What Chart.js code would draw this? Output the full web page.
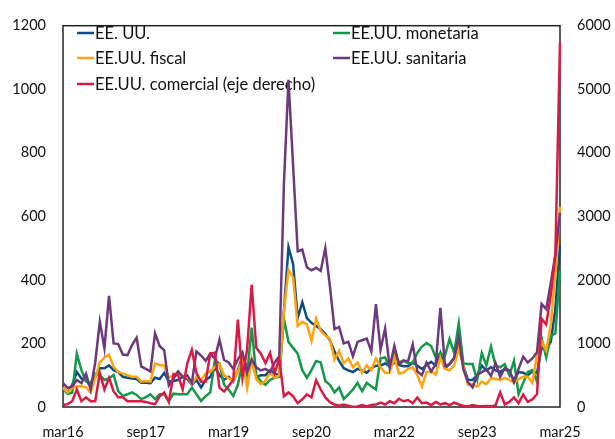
<!DOCTYPE html>
<html>
<head>
<meta charset="utf-8">
<script src="https://cdn.jsdelivr.net/npm/chart.js@4.4.1/dist/chart.umd.min.js"></script>
<style>
  html, body { margin: 0; padding: 0; background: #fff; }
  #wrap { width: 615px; height: 439px; }
</style>
</head>
<body>
<div id="wrap"><canvas id="myChart" width="615" height="439"></canvas></div>
<script>
// meses para las etiquetas (mar16 ... mar25, mensual)
const meses = ['ene', 'feb', 'mar', 'abr', 'may', 'jun', 'jul', 'ago', 'sep', 'oct', 'nov', 'dic'];
const etiquetas = [];
for (let k = 0; k < 109; k++) {
    const m = (2 + k) % 12;
    const a = 16 + Math.floor((2 + k) / 12);
    etiquetas.push(meses[m] + a);
}

// EE. UU. (eje izquierdo)
const eeuu = [
    61, 45, 70, 110, 90, 85, 65, 95, 122, 122,
    131, 116, 110, 95, 92, 90, 88, 76, 76, 75,
    92, 88, 107, 80, 82, 85, 95, 88, 70, 85,
    62, 85, 95, 125, 100, 85, 95, 80, 115, 160,
    125, 145, 95, 100, 100, 115, 105, 100, 300, 503,
    450, 280, 330, 280, 265, 255, 245, 230, 210, 175,
    145, 122, 115, 110, 120, 115, 108, 122, 130, 130,
    137, 128, 140, 132, 128, 128, 140, 130, 120, 132,
    142, 130, 170, 122, 135, 153, 190, 130, 85, 85,
    100, 130, 115, 125, 115, 110, 120, 110, 85, 110,
    108, 100, 112, 107, 186, 180, 205, 310, 510
];

// EE.UU. monetaria
const monetaria = [
    56, 41, 45, 168, 116, 80, 75, 105, 100, 85,
    90, 101, 50, 35, 40, 46, 38, 25, 31, 40,
    25, 40, 40, 18, 42, 40, 40, 40, 61, 40,
    19, 34, 46, 147, 137, 70, 55, 35, 70, 140,
    100, 250, 100, 80, 70, 85, 92, 95, 278, 205,
    186, 168, 116, 92, 116, 145, 140, 82, 70, 46,
    61, 25, 40, 55, 76, 50, 76, 65, 55, 153,
    156, 125, 168, 140, 147, 137, 140, 170, 190, 201,
    192, 156, 170, 162, 214, 171, 263, 137, 135, 135,
    85, 170, 131, 190, 130, 125, 135, 100, 145, 40,
    76, 110, 116, 80, 217, 156, 223, 232, 431
];

// EE.UU. fiscal
const fiscal = [
    61, 46, 60, 65, 65, 62, 45, 90, 140, 156,
    165, 126, 110, 105, 100, 95, 95, 80, 82, 80,
    137, 132, 130, 92, 100, 110, 98, 95, 72, 95,
    85, 105, 112, 126, 135, 100, 90, 82, 112, 150,
    60, 150, 88, 72, 82, 108, 92, 100, 300, 432,
    408, 255, 268, 260, 208, 278, 240, 225, 214, 150,
    177, 137, 153, 125, 140, 107, 131, 115, 153, 125,
    107, 108, 156, 105, 108, 120, 125, 100, 64, 110,
    112, 102, 156, 120, 115, 131, 183, 130, 70, 72,
    64, 80, 72, 90, 88, 85, 92, 85, 76, 88,
    95, 95, 76, 165, 207, 177, 259, 420, 630
];

// EE.UU. sanitaria
const sanitaria = [
    75, 60, 65, 85, 75, 105, 55, 140, 268, 185,
    350, 200, 198, 165, 163, 195, 218, 128, 120, 112,
    232, 192, 178, 68, 88, 112, 95, 100, 76, 175,
    162, 145, 168, 153, 212, 148, 140, 120, 150, 172,
    110, 150, 125, 115, 120, 110, 140, 160, 700, 1030,
    760, 490, 495, 440, 430, 438, 428, 500, 380, 245,
    252, 200, 205, 160, 205, 210, 215, 175, 324, 180,
    247, 125, 192, 135, 145, 145, 197, 112, 100, 140,
    112, 135, 312, 130, 135, 155, 222, 118, 78, 62,
    100, 110, 118, 98, 138, 95, 122, 115, 78, 120,
    158, 140, 153, 172, 324, 308, 390, 480, 612
];

// EE.UU. comercial (eje derecho)
const comercial = [
    30, 45, 90, 275, 92, 153, 92, 92, 534, 275,
    458, 244, 153, 153, 92, 92, 92, 92, 80, 60,
    46, 168, 229, 76, 520, 500, 275, 687, 901, 534,
    397, 400, 840, 855, 305, 244, 330, 428, 1374, 458,
    900, 1924, 931, 840, 690, 850, 534, 763, 168, 229,
    168, 61, 122, 200, 150, 420, 275, 150, 76, 40,
    20, 40, 20, 0, 10, 30, 10, 30, 40, 70,
    40, 92, 60, 130, 90, 110, 60, 150, 60, 70,
    30, 80, 40, 60, 30, 70, 40, 20, 10, 30,
    15, 10, 15, 10, 30, 229, 40, 80, 150, 60,
    198, 80, 120, 200, 1390, 1298, 1756, 2400, 5740
];

const nombres = ['EE. UU.', 'EE.UU. monetaria', 'EE.UU. fiscal', 'EE.UU. sanitaria', 'EE.UU. comercial (eje derecho)'];
const colores = ['#0F4C81', '#14994A', '#FFA40C', '#6C3A7C', '#DA1A45'];

const fuente = 'Lato, "Open Sans", sans-serif';

// marco y leyenda (dos columnas), dibujados debajo de las series
const fondoPlugin = {
    id: 'fondo',
    beforeDatasetsDraw(chart) {
        const a = chart.chartArea;
        const ctx = chart.ctx;
        ctx.save();
        ctx.strokeStyle = '#222';
        ctx.lineWidth = 1.5;
        ctx.strokeRect(a.left, a.top, a.right - a.left, a.bottom - a.top);

        const pos = [[77, 33], [333, 33], [77, 58], [333, 58], [77, 84]];
        ctx.font = '16.5px ' + fuente;
        ctx.textBaseline = 'middle';
        ctx.textAlign = 'left';
        nombres.forEach((n, i) => {
            const [x, y] = pos[i];
            ctx.strokeStyle = colores[i];
            ctx.lineWidth = 2.5;
            ctx.beginPath();
            ctx.moveTo(x, y);
            ctx.lineTo(x + 17, y);
            ctx.stroke();
            ctx.fillStyle = '#111';
            ctx.fillText(n, x + 18, y + 1);
        });
        ctx.restore();
    }
};

function serie(i, datos, eje, orden) {
    return {
        label: nombres[i],
        data: datos,
        yAxisID: eje,
        borderColor: colores[i],
        backgroundColor: colores[i],
        borderWidth: 2.5,
        pointRadius: 0,
        tension: 0,
        fill: false,
        order: orden
    };
}

const sinMiles = v => String(v);

new Chart(document.getElementById('myChart'), {
    type: 'line',
    data: {
        labels: etiquetas,
        datasets: [
            serie(0, eeuu, 'y', 4),
            serie(1, monetaria, 'y', 3),
            serie(2, fiscal, 'y', 2),
            serie(3, sanitaria, 'y', 1),
            serie(4, comercial, 'y1', 0)
        ]
    },
    options: {
        responsive: false,
        animation: false,
        devicePixelRatio: 1,
        layout: { padding: { top: 15, left: 0, right: 0, bottom: 0 } },
        plugins: {
            legend: { display: false },
            tooltip: { enabled: false },
            title: { display: false }
        },
        scales: {
            x: {
                type: 'category',
                offset: false,
                grid: { display: false, drawTicks: false },
                border: { display: false },
                ticks: {
                    autoSkip: false,
                    maxRotation: 0,
                    minRotation: 0,
                    padding: 17,
                    color: '#111',
                    font: { family: fuente, size: 14.5 },
                    callback: function(value, index) {
                        return index % 18 === 0 ? this.getLabelForValue(value) : '';
                    }
                },
                afterFit(s) { s.height = 32; }
            },
            y: {
                position: 'left',
                min: 0,
                max: 1200,
                grid: { display: false, drawTicks: false },
                border: { display: false },
                ticks: {
                    stepSize: 200,
                    padding: 17,
                    color: '#111',
                    font: { family: fuente, size: 14.5 },
                    callback: sinMiles
                },
                afterFit(s) { s.width = 63; }
            },
            y1: {
                position: 'right',
                min: 0,
                max: 6000,
                grid: { display: false, drawTicks: false },
                border: { display: false },
                ticks: {
                    stepSize: 1000,
                    padding: 17,
                    color: '#111',
                    font: { family: fuente, size: 14.5 },
                    callback: sinMiles
                },
                afterFit(s) { s.width = 55; }
            }
        }
    },
    plugins: [fondoPlugin]
});
</script>
</body>
</html>
